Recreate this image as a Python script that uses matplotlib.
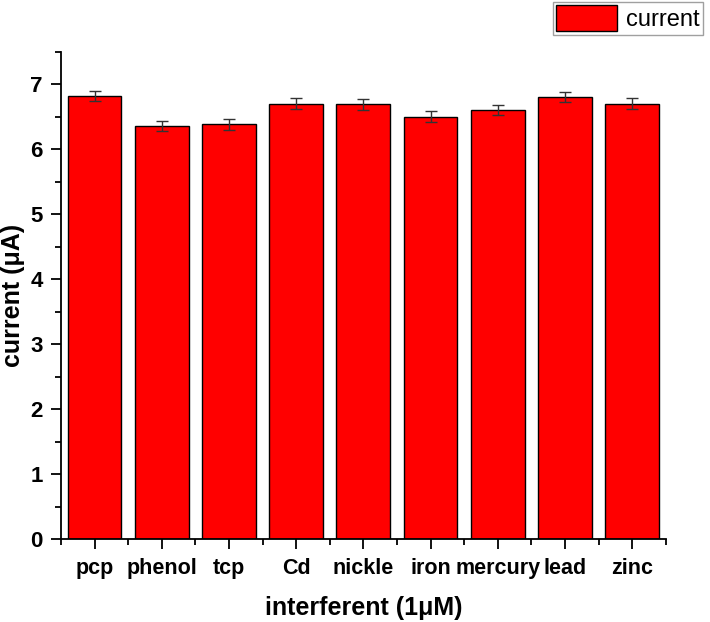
import numpy as np
import matplotlib
matplotlib.use('Agg')
import matplotlib.pyplot as plt
from matplotlib.ticker import MultipleLocator, FixedLocator

plt.rcParams['font.family'] = ['Liberation Sans', 'DejaVu Sans']

# interferent study values
categories = ['pcp', 'phenol', 'tcp', 'Cd', 'nickle', 'iron', 'mercury', 'lead', 'zinc']
currents = [6.82, 6.36, 6.38, 6.70, 6.69, 6.50, 6.60, 6.80, 6.70]
errors = [0.08, 0.08, 0.08, 0.08, 0.08, 0.08, 0.08, 0.08, 0.08]

fig = plt.figure(figsize=(7.1, 6.22), dpi=100)
ax = fig.add_axes([0.0859, 0.1334, 0.8517, 0.7835])

x = np.arange(1, len(categories) + 1)
bars = ax.bar(x, currents, width=0.8, color='#ff0000', edgecolor='black',
              linewidth=1.0, label='current', zorder=2)
ax.errorbar(x, currents, yerr=errors, fmt='none', ecolor='#333333',
            elinewidth=1.0, capsize=4, capthick=1.0, zorder=3)

ax.set_xlim(0.5, 9.5)
ax.set_ylim(0, 7.5)
ax.set_xticks(x)
ax.set_xticklabels(categories, fontsize=15.5, fontweight='bold')
ax.xaxis.set_minor_locator(FixedLocator(np.arange(0.5, 10, 1)))
ax.yaxis.set_major_locator(MultipleLocator(1))
ax.yaxis.set_minor_locator(MultipleLocator(0.5))
for lab in ax.get_yticklabels():
    lab.set_fontsize(16)
    lab.set_fontweight('bold')

ax.tick_params(which='major', direction='out', length=7, width=1.3, pad=7)
ax.tick_params(which='minor', direction='out', length=4, width=1.3)
ax.tick_params(axis='y', which='major', pad=6)

ax.spines['top'].set_visible(False)
ax.spines['right'].set_visible(False)
ax.spines['left'].set_linewidth(1.3)
ax.spines['bottom'].set_linewidth(1.3)

ax.set_xlabel('interferent (1μM)', fontsize=18, fontweight='bold', labelpad=12)
ax.set_ylabel('current (μA)', fontsize=18, fontweight='bold', labelpad=4)

leg = fig.legend(handles=[bars], labels=['current'], loc='upper right',
                 bbox_to_anchor=(0.99, 0.997), fontsize=17, frameon=True,
                 fancybox=False, edgecolor='#888888', handlelength=2.6,
                 handleheight=1.3, borderpad=0.15, handletextpad=0.35,
                 borderaxespad=0)
leg.get_frame().set_linewidth(1.0)

fig.savefig('out.png', dpi=100)
